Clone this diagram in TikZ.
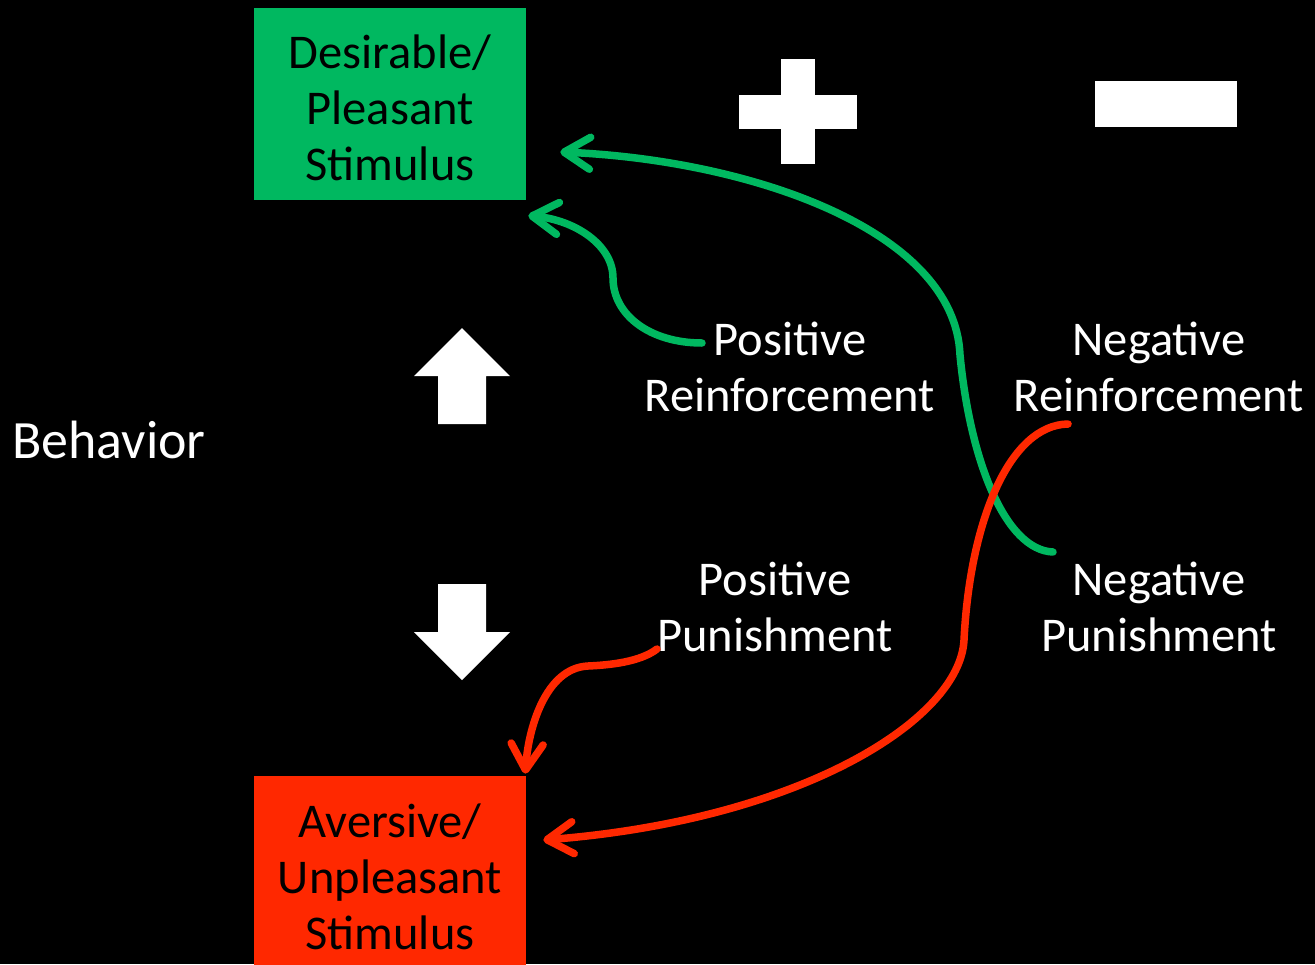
\documentclass[tikz,border=0pt]{standalone}
\usepackage{fontspec}
\setmainfont{Carlito}
\usetikzlibrary{positioning, calc, arrows.meta}
\definecolor{stimgreen}{RGB}{0,184,96}
\definecolor{stimred}{RGB}{255,40,0}

\begin{document}
\begin{tikzpicture}[x=0.02cm, y=-0.02cm,
	>={Straight Barb[length=0.52cm, width=0.64cm, round]},
	lbl/.style={text=white, align=center, font=\fontsize{27.6}{31.5}\selectfont},
	stim/.style={minimum width=5.44cm, minimum height=3.84cm, inner sep=0pt},
	stimtext/.style={align=center, font=\fontsize{27.6}{31.8}\selectfont},
	link/.style={line width=0.15cm, line cap=round, ->}]
	\useasboundingbox (0,0) rectangle (1315,964);
	\fill[black] (0,0) rectangle (1315,964);
	% stimulus boxes
	\node[stim, fill=stimgreen] (desire) at (390,104) {};
	\node[stimtext] (desire-txt) at (390,108) {Desirable/\\Pleasant\\Stimulus};
	\node[stim, fill=stimred] (aversive) at (390,872) {};
	\node[stimtext] (aversive-txt) at (390,877) {Aversive/\\Unpleasant\\Stimulus};
	% labels
	\node[lbl, font=\fontsize{30.7}{34}\selectfont] (behav) at (109,440) {Behavior};
	\node[lbl] (posreinf) at (790,367) {Positive\\Reinforcement};
	\node[lbl] (negreinf) at (1159,367) {Negative\\Reinforcement};
	\node[lbl] (pospun) at (775,607) {Positive\\Punishment};
	\node[lbl] (negpun) at (1159,607) {Negative\\Punishment};
	% plus and minus
	\fill[white] (739,95) rectangle (857,129);
	\fill[white] (781,59) rectangle (815,164);
	\fill[white] (1095,81) rectangle (1237,127);
	% behaviour up / down
	\fill[white] (462,328) -- (510,376) -- (486,376) -- (486,424) -- (438,424) -- (438,376) -- (414,376) -- cycle;
	\fill[white] (438,584) -- (486,584) -- (486,632) -- (510,632) -- (462,680) -- (414,632) -- (438,632) -- cycle;
	% connector ends
	\coordinate (pr) at (702,343);
	\coordinate (np) at (1053,552);
	\coordinate (pp) at (657,649);
	\coordinate (nr) at (1068,424);
	\draw[link, stimgreen] (pr) .. controls (650,343) and (613,315) .. (613,278)
		.. controls (613,245) and (575,220) .. ([shift={(2,208)}]desire.north east);
	\draw[link, stimgreen] (np) .. controls (1005,550) and (970,460) .. (960,355)
		.. controls (955,230) and (750,160) .. ([shift={(34,48)}]desire.east);
	\draw[link, stimred] (pp) .. controls (640,662) and (610,665) .. (588,666)
		.. controls (545,668) and (528,730) .. ([shift={(-1,-2)}]aversive.north east);
	\draw[link, stimred] (nr) .. controls (1010,425) and (970,520) .. (964,640)
		.. controls (960,720) and (800,820) .. ([shift={(17,-32)}]aversive.east);
\end{tikzpicture}
\end{document}
